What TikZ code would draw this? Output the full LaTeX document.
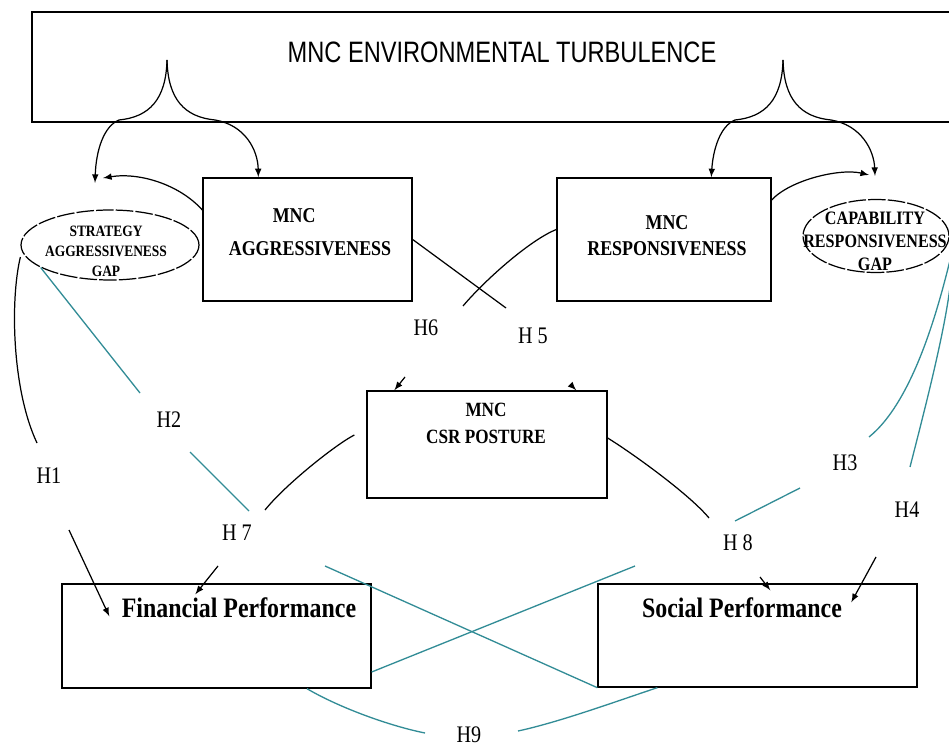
\documentclass[tikz,border=0pt]{standalone}
\usepackage{fontspec}
\usetikzlibrary{shapes.geometric}
\setmainfont{Liberation Serif}
\newfontfamily\titlefont[FakeStretch=0.8]{Liberation Sans}
\newfontfamily\boxfont[FakeStretch=0.85]{Liberation Serif}
\definecolor{hteal}{RGB}{50,140,150}

\begin{document}
\begin{tikzpicture}[x=0.02cm,y=-0.02cm,>=latex,line width=0.7pt,
  box/.style={draw,line width=0.8pt,inner sep=0pt},
  gap/.style={draw,ellipse,inner sep=0pt,dash pattern=on 10pt off 1.2pt},
  btxt/.style 2 args={align=center,font=\boxfont\bfseries\fontsize{#1}{#2}\selectfont},
  hyp/.style={font=\boxfont\fontsize{13.5}{15}\selectfont},
  hl/.style={hteal,line width=0.75pt}]
\useasboundingbox (0,0) rectangle (949,749);
% environment frame, open at the right
\node[font=\titlefont\fontsize{16.8}{18}\selectfont] (env) at (502,52) {MNC ENVIRONMENTAL TURBULENCE};
\draw[line width=0.8pt] (949,12) -| (32,122) -- (949,122);
% boxes and gaps
\node[box,minimum width=4.18cm,minimum height=2.46cm] (aggr) at (307.5,239.5) {};
\node[box,minimum width=4.28cm,minimum height=2.46cm] (resp) at (664,239.5) {};
\node[box,minimum width=4.8cm,minimum height=2.14cm] (csr) at (487,444.5) {};
\node[box,minimum width=6.18cm,minimum height=2.08cm] (fin) at (216.5,636) {};
\node[box,minimum width=6.38cm,minimum height=2.06cm] (soc) at (757.5,635.5) {};
\node[gap,minimum width=3.56cm,minimum height=1.4cm] (sgap) at (110,245) {};
\node[gap,minimum width=2.92cm,minimum height=1.46cm] (cgap) at (876,236) {};
\node[btxt={12}{18.7}] (aggrt) at (310,232) {MNC\hspace*{18pt}\\AGGRESSIVENESS};
\node[btxt={12}{14.7}] (respt) at (667,236) {MNC\\RESPONSIVENESS};
\node[btxt={11.5}{15.3}] (csrt) at (486,423) {MNC\\CSR POSTURE};
\node[btxt={16}{18}] (fint) at (239,608) {Financial Performance};
\node[btxt={16}{18}] (soct) at (742,608) {Social Performance};
\node[btxt={9}{11.3}] (sgapt) at (106,251) {STRATEGY\\AGGRESSIVENESS\\GAP};
\node[btxt={10.8}{13}] (cgapt) at (875,241) {CAPABILITY\\RESPONSIVENESS\\GAP};
% hypothesis labels
\node[hyp] (h1) at (49,476) {H1};
\node[hyp] (h2) at (169,420) {H2};
\node[hyp] (h3) at (845,463) {H3};
\node[hyp] (h4) at (907,510) {H4};
\node[hyp] (h5) at (533,336) {H 5};
\node[hyp] (h6) at (426,328) {H6};
\node[hyp] (h7) at (237,533) {H 7};
\node[hyp] (h8) at (738,543) {H 8};
\node[hyp] (h9) at (469,735) {H9};
% loose ends
\coordinate (fl) at (167,60);
\coordinate (fr) at (783,60);
\coordinate (la) at (95,183);
\coordinate (rb) at (875,176);
\coordinate (sa) at (103,178);
\coordinate (cb) at (869,175);
\coordinate (h1a) at (37,443);
\coordinate (h1b) at (69,530);
\coordinate (h2a) at (140,393);
\coordinate (h2b) at (190,452);
\coordinate (h2c) at (249,511);
\coordinate (h3a) at (869,437);
\coordinate (h3b) at (800,488);
\coordinate (h3c) at (735,521);
\coordinate (h4a) at (910,467);
\coordinate (h4b) at (876,557);
\coordinate (h5a) at (506,308);
\coordinate (h5b) at (571,385);
\coordinate (h6a) at (463,306);
\coordinate (h6b) at (405,377);
\coordinate (h7a) at (265,510);
\coordinate (h7b) at (218,566);
\coordinate (h8a) at (709,518);
\coordinate (h8b) at (760,577);
\coordinate (h9a) at (425,733);
\coordinate (h9b) at (518,731);
\coordinate (h9c) at (325,566);
\coordinate (h9d) at (635,566);
% turbulence forks
\draw[->] (fl) .. controls (166,100) and (149,117) .. (119,120) .. controls (104,126) and (96,150) .. (la);
\draw[->] (fl) .. controls (168,100) and (185,117) .. (215,120) .. controls (245,125) and (258,150) .. ([xshift=1.12cm]aggr.north west);
\draw[->] (fr) .. controls (782,100) and (765,117) .. (735,120) .. controls (720,126) and (713,150) .. ([xshift=3.1cm]resp.north west);
\draw[->] (fr) .. controls (784,100) and (801,117) .. (831,120) .. controls (861,125) and (874,150) .. (rb);
\draw[->] ([yshift=0.59cm]aggr.west) .. controls (180,185) and (140,172) .. (sa);
\draw[->] ([yshift=0.79cm]resp.east) .. controls (790,180) and (840,168) .. (cb);
% H5 and H6
\draw (aggr.east) -- (h5a);
\draw[->] (h5b) -- ([xshift=4.2cm]csr.north west);
\draw ([yshift=0.2cm]resp.west) .. controls (530,240) and (485,280) .. (h6a);
\draw[->] (h6b) -- ([xshift=0.56cm]csr.north west);
% H7 and H8
\draw ([xshift=-0.24cm,yshift=0.19cm]csr.west) .. controls (335,445) and (285,485) .. (h7a);
\draw[->] (h7b) -- ([xshift=2.68cm,yshift=-0.22cm]fin.north west);
\draw ([yshift=0.13cm]csr.east) .. controls (635,455) and (690,495) .. (h8a);
\draw[->] (h8b) -- ([xshift=3.46cm,yshift=-0.14cm]soc.north west);
% H1 to H4
\draw ([yshift=-0.24cm]sgap.west) .. controls (10,300) and (12,390) .. (h1a);
\draw[->] (h1b) -- ([xshift=0.96cm,yshift=-0.66cm]fin.north west);
\draw[hl] (sgap.198) -- (h2a);
\draw[hl] (h2b) -- (h2c);
\draw[hl] ([yshift=-0.52cm]cgap.east) .. controls (940,300) and (915,400) .. (h3a);
\draw[hl] (h3b) -- (h3c);
\draw[hl] ([yshift=-1.08cm]cgap.east) .. controls (943,340) and (922,420) .. (h4a);
\draw[->] (h4b) -- ([xshift=5.08cm,yshift=-0.38cm]soc.north west);
% H9
\draw[hl] (h9c) -- (soc.south west);
\draw[hl] ([yshift=-0.72cm]fin.east) -- (h9d);
\draw[hl] ([xshift=1.81cm]fin.south) .. controls (340,708) and (390,726) .. (h9a);
\draw[hl] (h9b) .. controls (560,722) and (620,700) .. ([xshift=1.2cm]soc.south west);
\end{tikzpicture}
\end{document}
